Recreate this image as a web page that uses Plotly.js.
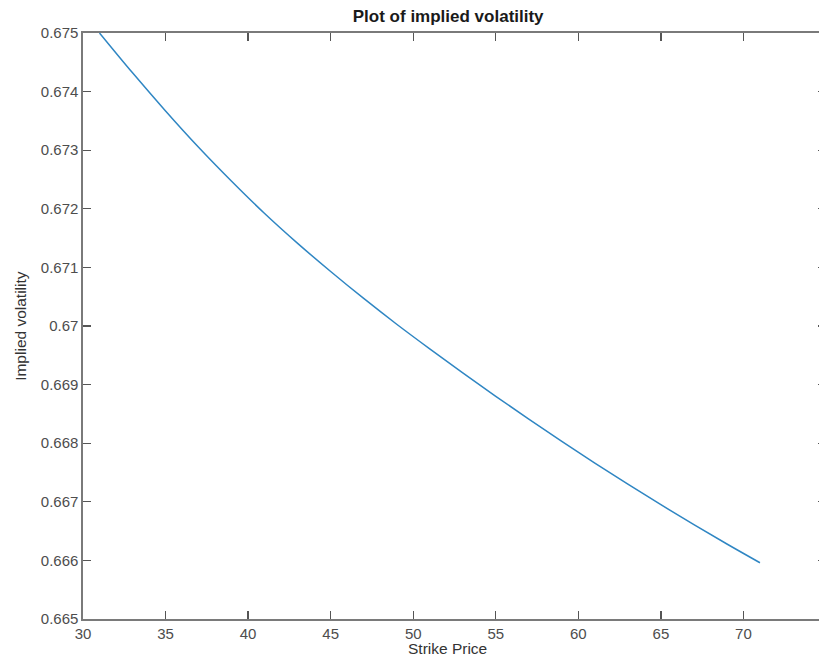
<!DOCTYPE html>
<html>
<head>
<meta charset="utf-8">
<script src="https://cdn.plot.ly/plotly-3.0.1.min.js"></script>
<style>
html, body { margin: 0; padding: 0; overflow: hidden; background: #fff; width: 819px; height: 660px; }
#chart { width: 840px; height: 660px; }
</style>
</head>
<body>
<div id="chart"></div>
<script>
// Data
const strikePrice = [31, 33, 35, 37, 39, 41, 43, 45, 47, 49, 51, 53, 55, 57, 59, 61, 63, 65, 67, 69, 71];
const impliedVol = [0.67500, 0.67432, 0.67367, 0.67305, 0.67247, 0.67192, 0.67141, 0.67093, 0.67047, 0.67003,
                    0.66961, 0.66920, 0.66880, 0.66841, 0.66803, 0.66766, 0.66730, 0.66695, 0.66661, 0.66628, 0.66596];
const yTickVals = [0.665, 0.666, 0.667, 0.668, 0.669, 0.670, 0.671, 0.672, 0.673, 0.674, 0.675];
const yTickText = ["0.665", "0.666", "0.667", "0.668", "0.669", "0.67", "0.671", "0.672", "0.673", "0.674", "0.675"];
const xTickVals = [30, 35, 40, 45, 50, 55, 60, 65, 70];
const xTickText = ["30", "35", "40", "45", "50", "55", "60", "65", "70"];
const chartTitle = "Plot of implied volatility";
const xTitle = "Strike Price";
const yTitle = "Implied volatility";

const font = "Liberation Sans, Arial, Helvetica, sans-serif";
const axisColor = "#7a7a7a";

const trace = {
  x: strikePrice,
  y: impliedVol,
  type: "scatter",
  mode: "lines",
  line: { color: "#2f86c3", width: 1.5, shape: "spline", smoothing: 1 },
  hoverinfo: "x+y"
};

const layout = {
  width: 840,
  height: 660,
  margin: { l: 83, r: 14, t: 33, b: 41 },
  paper_bgcolor: "#ffffff",
  plot_bgcolor: "#ffffff",
  showlegend: false,
  font: { family: font, size: 15, color: "#333333" },
  title: {
    text: "<b>" + chartTitle + "</b>",
    font: { family: font, size: 17, color: "#1a1a1a" },
    x: 0.4915, xref: "paper", xanchor: "center",
    y: 0.975, yref: "container", yanchor: "middle"
  },
  xaxis: {
    range: [30, 75],
    tickmode: "array",
    tickvals: xTickVals,
    ticktext: xTickText,
    ticks: "inside",
    ticklen: 8,
    tickwidth: 1.3,
    tickcolor: "#555555",
    showline: true,
    linecolor: axisColor,
    linewidth: 1.6,
    mirror: "ticks",
    showgrid: false,
    zeroline: false,
    tickfont: { family: font, size: 15, color: "#4d4d4d" },
    automargin: false,
    fixedrange: true
  },
  yaxis: {
    range: [0.665, 0.675],
    tickmode: "array",
    tickvals: yTickVals,
    ticktext: yTickText,
    ticks: "inside",
    ticklen: 8,
    tickwidth: 1.3,
    tickcolor: "#555555",
    showline: true,
    linecolor: axisColor,
    linewidth: 1.6,
    mirror: "ticks",
    showgrid: false,
    zeroline: false,
    tickfont: { family: font, size: 15, color: "#4d4d4d" },
    automargin: false,
    fixedrange: true
  },
  annotations: [
    {
      text: xTitle,
      xref: "paper", yref: "paper",
      x: 0.4906, y: -0.051,
      xanchor: "center", yanchor: "middle",
      showarrow: false,
      font: { family: font, size: 15.5, color: "#333333" }
    },
    {
      text: yTitle,
      xref: "paper", yref: "paper",
      x: -0.085, y: 0.5,
      xanchor: "center", yanchor: "middle",
      textangle: -90,
      showarrow: false,
      font: { family: font, size: 15.5, color: "#333333" }
    }
  ]
};

Plotly.newPlot("chart", [trace], layout, { displayModeBar: false, staticPlot: true });
</script>
</body>
</html>
